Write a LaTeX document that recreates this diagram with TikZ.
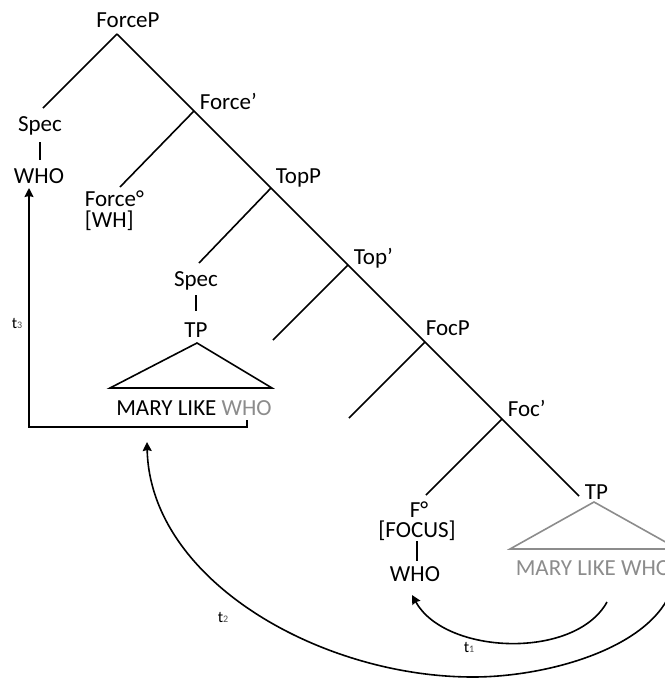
\documentclass[tikz,border=0pt]{standalone}
\usepackage{fontspec}
\usetikzlibrary{arrows.meta}
\setmainfont{Carlito}
\definecolor{traced}{gray}{0.55}
\tikzset{
  lbl/.style={inner sep=0pt, font=\fontsize{11.5}{13}\selectfont},
  tlbl/.style={inner sep=0pt, font=\fontsize{8}{9}\selectfont},
  move/.style={->,>={Stealth[length=4.5pt,width=4.5pt,inset=0.5pt]},thick},
}
\newcommand{\trc}[1]{t{\fontsize{5}{6}\selectfont\color{black!70}#1}}
\begin{document}
\begin{tikzpicture}[x=0.5pt,y=-0.5pt,thick]
\useasboundingbox (0,0) rectangle (664,680);
% spine of the tree
\coordinate (root) at (117,34);
\coordinate (jForce) at (194,111);
\coordinate (jTop) at (271,188);
\coordinate (jTopBar) at (348,265);
\coordinate (jFoc) at (425,342);
\coordinate (jFocBar) at (502,419);
\coordinate (jTP) at (579,496);
\node[lbl,anchor=base] (forceP) at (128,27) {ForceP};
\node[lbl,anchor=base west] (forceBar) at (199,109) {Force’};
\node[lbl,anchor=base west] (topP) at (275,183) {TopP};
\node[lbl,anchor=base west] (topBar) at (353,264) {Top’};
\node[lbl,anchor=base west] (focP) at (425,335) {FocP};
\node[lbl,anchor=base west] (focBar) at (507,416) {Foc’};
\node[lbl,anchor=base west] (tpC) at (584,499) {TP};
\draw (root) -- (jTP);
% Spec of ForceP
\coordinate (specAtop) at (43,108);
\node[lbl,anchor=base] (specA) at (40,131) {Spec};
\node[lbl,anchor=base] (whoA) at (39,183) {WHO};
\draw (root) -- (specAtop);
\draw (40,142) -- (40,160);
% Force head
\coordinate (forceHeadTop) at (120,187);
\node[lbl,anchor=base west] (forceHead) at (84,206) {Force°};
\node[lbl,anchor=base west] (featWH) at (84,227) {[WH]};
\draw (jForce) -- (forceHeadTop);
% Spec of TopP
\coordinate (specBtop) at (199,263);
\node[lbl,anchor=base] (specB) at (196,286) {Spec};
\node[lbl,anchor=base] (tpB) at (196,337) {TP};
\draw (jTop) -- (specBtop);
\draw (196,295) -- (196,311);
\draw (197,343) -- (110,388) -- (272,388) -- cycle;
\node[lbl,anchor=base] (maryA) at (194,415) {MARY LIKE \textcolor{traced}{WHO}};
% empty branches
\coordinate (topBarEnd) at (273,340);
\coordinate (focPEnd) at (349,418);
\draw (jTopBar) -- (topBarEnd);
\draw (jFoc) -- (focPEnd);
% Focus head
\coordinate (fHeadTop) at (426,495);
\node[lbl,anchor=base] (fHead) at (419,517) {F°};
\node[lbl,anchor=base] (featFoc) at (417,537) {[FOCUS]};
\node[lbl,anchor=base] (whoB) at (415,581) {WHO};
\draw (jFocBar) -- (fHeadTop);
\draw (417,541) -- (417,561);
% lower copy of TP
\draw[traced] (594,502) -- (510,549) -- (678,549) -- cycle;
\node[lbl,anchor=base west,text=traced] (maryC) at (515,575) {MARY LIKE WHO};
% movements
\coordinate (t1from) at (607,602);
\coordinate (t1to) at (412,595);
\draw[move] (t1from) .. controls (575,660) and (445,655) .. (t1to);
\node[tlbl] (tOne) at (469,647) {\trc{1}};
\coordinate (t2from) at (670,594);
\coordinate (t2low) at (473,677);
\coordinate (t2to) at (147,442);
\draw[move] (t2from) .. controls (645,650) and (545,677) .. (t2low)
  .. controls (320,677) and (150,580) .. (t2to);
\node[tlbl] (tTwo) at (223,617) {\trc{2}};
\coordinate (t3from) at (247,420);
\coordinate (t3to) at (29,188);
\draw[move] (t3from) |- (29,427) -- (t3to);
\node[tlbl] (tThree) at (17,323) {\trc{3}};
\end{tikzpicture}
\end{document}
